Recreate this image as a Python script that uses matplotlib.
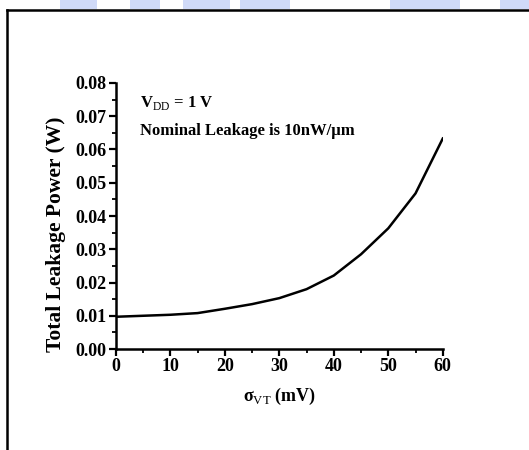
import numpy as np
import matplotlib.pyplot as plt
from matplotlib.ticker import MultipleLocator
from matplotlib.patches import Rectangle
from matplotlib.lines import Line2D

# sigma_VT (mV) vs total leakage power (W)
sigma_vt = [0, 5, 10, 15, 20, 25, 30, 35, 40, 45, 50, 55, 60]
leakage = [0.0097, 0.0100, 0.0103, 0.0108, 0.0121, 0.0135, 0.0153,
           0.0180, 0.0221, 0.0285, 0.0363, 0.0468, 0.0633]

plt.rcParams['font.family'] = ['Liberation Serif', 'DejaVu Serif']
plt.rcParams['mathtext.fontset'] = 'custom'
plt.rcParams['mathtext.rm'] = 'Liberation Serif'

fig = plt.figure(figsize=(5.29, 4.50), dpi=100)
ax = fig.add_axes([0.219, 0.2244, 0.618, 0.5912])

ax.plot(sigma_vt, leakage, color="black", linewidth=1.8)

ax.set_xlim(0, 60)
ax.set_ylim(0, 0.08)
ax.xaxis.set_major_locator(MultipleLocator(10))
ax.xaxis.set_minor_locator(MultipleLocator(5))
ax.yaxis.set_major_locator(MultipleLocator(0.01))
ax.yaxis.set_minor_locator(MultipleLocator(0.005))
ax.yaxis.set_major_formatter(plt.FuncFormatter(lambda v, p: "%.2f" % v))

for s in ["top", "right"]:
    ax.spines[s].set_visible(False)
for s in ["left", "bottom"]:
    ax.spines[s].set_linewidth(1.8)

ax.tick_params(which="major", direction="out", length=5, width=1.6, labelsize=13, pad=1.5)
ax.tick_params(which="minor", direction="out", length=3, width=1.3)
for lbl in ax.get_xticklabels() + ax.get_yticklabels():
    lbl.set_fontweight("bold")

ax.set_xlabel("\u03c3$_{\\mathrm{VT}}$ (mV)", fontsize=13, fontweight="bold", labelpad=8)
ax.set_ylabel("Total Leakage Power (W)", fontsize=15.5, fontweight="bold", labelpad=8)
ax.yaxis.set_label_coords(-0.152, 0.43)

ax.text(0.075, 0.925, r"V$_{\mathrm{DD}}$ = 1 V", transform=ax.transAxes,
        fontsize=12, fontweight="bold", va="center")
ax.text(0.075, 0.82, "Nominal Leakage is 10nW/\u00b5m", transform=ax.transAxes,
        fontsize=12, fontweight="bold", va="center")

# page frame and faint strip at top
for x0, w in [(60, 37), (130, 30), (183, 47), (240, 50), (390, 70), (500, 29)]:
    fig.patches.append(Rectangle((x0 / 529, 441 / 450), w / 529, 9 / 450,
                                 transform=fig.transFigure, color="#d0daf8", lw=0))
fig.lines.append(Line2D([6.5 / 529, 1], [440.5 / 450, 440.5 / 450],
                        transform=fig.transFigure, color="black", lw=1.8))
fig.lines.append(Line2D([6.5 / 529, 6.5 / 529], [0, 440.5 / 450],
                        transform=fig.transFigure, color="black", lw=1.8))

plt.savefig("out.png", dpi=100)
